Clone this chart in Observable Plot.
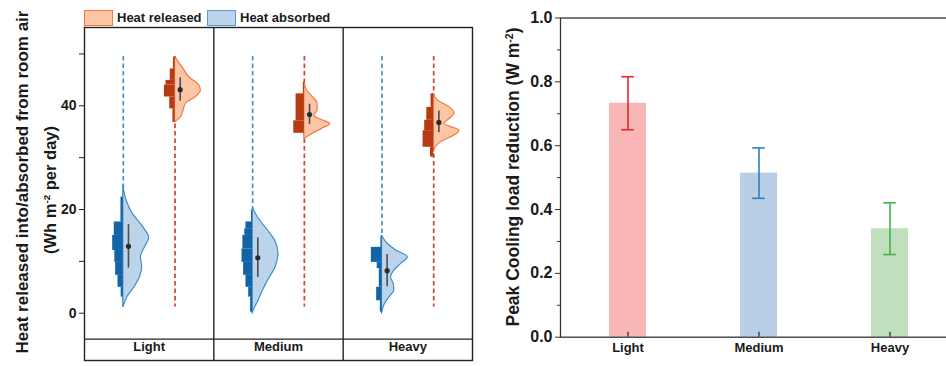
<!DOCTYPE html>
<html><head><meta charset="utf-8">
<script src="https://cdn.jsdelivr.net/npm/d3@7"></script>
<script src="https://cdn.jsdelivr.net/npm/@observablehq/plot@0.6"></script>
<style>
body{margin:0;background:#fff;}
#root{position:relative;width:946px;height:366px;overflow:hidden;font-family:"Liberation Sans",Arial,sans-serif;font-weight:bold;color:#1a1a1a;}
.abs{position:absolute;}
.rot{position:absolute;transform:translate(-50%,-50%) rotate(-90deg);white-space:nowrap;line-height:1;}
.sw{position:absolute;box-sizing:border-box;}
.lg{position:absolute;font-size:13px;line-height:1;}
</style></head><body><div id="root"></div>
<script>
// ---------- data ----------
const groups = ["Light", "Medium", "Heavy"];

// half-violin profiles: [value, relative density]
const lightAbsorbedProfile  = [[24.6,0],[21.7,0.13],[19.2,0.36],[16.6,0.77],[14.5,1.0],[12.7,0.84],[10.8,0.68],[8.9,0.73],[6.9,0.64],[5.0,0.43],[3.1,0.16],[1.2,0]];
const mediumAbsorbedProfile = [[20.1,0.02],[18.5,0.2],[15.9,0.6],[14.0,0.87],[11.5,1.0],[8.9,0.89],[6.3,0.6],[4.4,0.4],[2.4,0.23],[0.5,0.04],[-0.1,0]];
const heavyAbsorbedProfile  = [[15.0,0],[13.4,0.22],[12.1,0.55],[10.8,1.0],[9.5,0.74],[8.2,0.48],[6.9,0.35],[5.7,0.45],[4.4,0.48],[3.1,0.29],[1.5,0.09],[-0.1,0]];
const lightReleasedProfile  = [[49.4,0],[47.4,0.29],[45.5,0.55],[43.9,0.94],[42.95,1.0],[41.7,0.81],[40.4,0.42],[39.1,0.33],[37.8,0.23],[36.8,0]];
const mediumReleasedProfile = [[44.6,0],[43.0,0.1],[41.7,0.32],[40.4,0.51],[39.1,0.51],[38.1,0.38],[37.2,0.7],[36.5,1.0],[35.6,0.7],[34.6,0.32],[33.6,0]];
const heavyReleasedProfile  = [[42.3,0],[41.0,0.17],[39.7,0.62],[38.5,0.81],[37.5,0.62],[36.5,0.42],[35.2,1.0],[34.3,0.81],[33.0,0.29],[31.7,0.04],[31.1,0]];

// histogram bins: [low, high, relative count]
const lightAbsorbedHist  = [[3.1,5.0,0.2],[5.0,7.3,0.5],[7.3,9.8,0.72],[9.8,12.1,0.8],[12.1,15.0,1.0],[15.0,17.6,0.85],[17.6,22.4,0.22]];
const mediumAbsorbedHist = [[0.2,3.1,0.19],[3.1,5.0,0.37],[5.0,7.3,0.63],[7.3,9.8,0.85],[9.8,12.4,1.0],[12.4,15.0,0.92],[15.0,16.3,0.74],[16.3,17.6,0.63],[17.6,19.8,0.11]];
const heavyAbsorbedHist  = [[0.2,2.4,0.15],[2.4,5.0,0.5],[5.0,8.6,0.25],[8.6,9.8,0.45],[9.8,12.7,1.0],[12.7,14.7,0.1]];
const lightReleasedHist  = [[36.8,39.4,0.2],[39.4,41.7,0.5],[41.7,44.0,1.0],[44.0,44.9,0.85],[44.9,47.1,0.45],[47.1,49.4,0.15]];
const mediumReleasedHist = [[34.7,37.1,1.0],[37.1,42.3,0.78],[42.3,44.5,0.1]];
const heavyReleasedHist  = [[30.1,32.0,0.3],[32.0,35.2,1.0],[35.2,37.2,0.85],[37.2,39.7,0.65],[39.7,42.3,0.25]];

// mean and +/- std
const absorbedMean = [12.9, 10.7, 8.2];
const absorbedLow  = [8.7, 6.9, 5.1];
const absorbedHigh = [17.1, 14.5, 11.3];
const releasedMean = [43.1, 38.3, 36.8];
const releasedLow  = [40.9, 36.4, 34.8];
const releasedHigh = [45.4, 40.3, 39.0];

// range lines
const rangeTop = [49.5, 49.5, 49.5];
const rangeBottom = [1.2, 1.2, 1.2];

// right panel
const peakReduction = [0.733, 0.514, 0.340];
const peakError = [0.083, 0.079, 0.081];
const leftTicks = [0, 20, 40];
const leftMinorTicks = [10, 30, 50];
const rightTicks = [0, 0.2, 0.4, 0.6, 0.8, 1.0];
const rightMinorTicks = [0.1, 0.3, 0.5, 0.7, 0.9];

// ---------- styling ----------
const FONT = '"Liberation Sans", Arial, sans-serif';
const C = {
  absFill: "#bcd4ea", absStroke: "#3f8dcb", absHist: "#1264a6", absDash: "#4b8fc6",
  relFill: "#fcc6a6", relStroke: "#f07a42", relHist: "#b63a12", relDash: "#c5473a"
};
const barFill = ["#f9b6b6", "#b9cfe6", "#c0e0bd"];
const errColor = ["#e8282c", "#2c7dc4", "#4cae4f"];
const VW = 0.2, HW = 0.082, OFF = 0.04;

// ---------- build tables ----------
const kinds = [
  {kind: "absorbed", pos: 0.3, prof: [lightAbsorbedProfile, mediumAbsorbedProfile, heavyAbsorbedProfile],
   hist: [lightAbsorbedHist, mediumAbsorbedHist, heavyAbsorbedHist], mean: absorbedMean, lo: absorbedLow, hi: absorbedHigh},
  {kind: "released", pos: 0.7, prof: [lightReleasedProfile, mediumReleasedProfile, heavyReleasedProfile],
   hist: [lightReleasedHist, mediumReleasedHist, heavyReleasedHist], mean: releasedMean, lo: releasedLow, hi: releasedHigh}
];
const violins = [], bins = [], stats = [], dashes = [];
kinds.forEach(k => {
  groups.forEach((g, i) => {
    const center = i + k.pos;
    k.prof[i].slice().sort((a, b) => a[0] - b[0]).forEach(([v, d]) =>
      violins.push({id: k.kind + i, kind: k.kind, center, value: v, density: d}));
    k.hist[i].forEach(([lo, hi, r]) => bins.push({kind: k.kind, center, lo, hi, rel: r}));
    stats.push({kind: k.kind, center, mean: k.mean[i], lo: k.lo[i], hi: k.hi[i]});
    dashes.push({kind: k.kind, center, top: rangeTop[i], bottom: rangeBottom[i]});
  });
});
const facetLabels = groups.map((g, i) => ({g, x: i + 0.5}));
const bars = groups.map((g, i) => ({group: g, value: peakReduction[i], lo: peakReduction[i] - peakError[i],
  hi: peakReduction[i] + peakError[i], fill: barFill[i], stroke: errColor[i]}));

// ---------- left panel ----------
const left = Plot.plot({
  width: 480, height: 366, marginLeft: 84, marginRight: 8, marginTop: 27, marginBottom: 6,
  style: {fontFamily: FONT, fontWeight: "bold", color: "#1a1a1a", background: "transparent"},
  x: {domain: [0, 3], axis: null},
  y: {domain: [-9.12, 55.1], axis: null},
  marks: [
    Plot.ruleX(dashes.filter(d => d.kind === "absorbed"), {x: "center", y1: "top", y2: "bottom", stroke: C.absDash, strokeWidth: 1.7, strokeDasharray: "4.5,3"}),
    Plot.ruleX(dashes.filter(d => d.kind === "released"), {x: "center", y1: "top", y2: "bottom", stroke: C.relDash, strokeWidth: 1.7, strokeDasharray: "4.5,3"}),
    Plot.areaX(violins.filter(d => d.kind === "absorbed"), {y: "value", x1: "center", x2: d => d.center + d.density * VW, z: "id", fill: C.absFill, stroke: C.absStroke, strokeWidth: 1.2, curve: "monotone-y"}),
    Plot.areaX(violins.filter(d => d.kind === "released"), {y: "value", x1: "center", x2: d => d.center + d.density * VW, z: "id", fill: C.relFill, stroke: C.relStroke, strokeWidth: 1.2, curve: "monotone-y"}),
    Plot.rect(bins.filter(d => d.kind === "absorbed"), {x1: d => d.center - d.rel * HW, x2: "center", y1: "lo", y2: "hi", fill: C.absHist}),
    Plot.rect(bins.filter(d => d.kind === "released"), {x1: d => d.center - d.rel * HW, x2: "center", y1: "lo", y2: "hi", fill: C.relHist}),
    Plot.ruleX(stats, {x: d => d.center + OFF, y1: "lo", y2: "hi", stroke: "#4d4d4d", strokeWidth: 1.6}),
    Plot.dot(stats, {x: d => d.center + OFF, y: "mean", r: 2.6, fill: "#2b2b2b", stroke: "none"}),
    Plot.ruleX([1, 2], {stroke: "#222", strokeWidth: 1.4}),
    Plot.ruleY([-5], {stroke: "#222", strokeWidth: 1.4}),
    Plot.frame({stroke: "#222", strokeWidth: 1.4}),
    Plot.text(facetLabels, {x: "x", frameAnchor: "bottom", dy: -10, text: "g", fontSize: 13, fill: "#1a1a1a"}),
    Plot.axisY({ticks: leftTicks, tickSize: 5, tickPadding: 3, fontSize: 14, label: null, stroke: "#222"}),
    Plot.axisY({ticks: leftMinorTicks, tickSize: 5, tickFormat: () => "", label: null, stroke: "#222"})
  ]
});

// ---------- right panel ----------
const right = Plot.plot({
  width: 480, height: 366, marginLeft: 80, marginRight: 3, marginTop: 17.5, marginBottom: 29.3,
  style: {fontFamily: FONT, fontWeight: "bold", color: "#1a1a1a", background: "transparent"},
  x: {domain: groups, paddingInner: 0.717, paddingOuter: 0.3656, axis: null},
  y: {domain: [0, 1], axis: null},
  marks: [
    Plot.barY(bars, {x: "group", y: "value", fill: "fill"}),
    Plot.ruleX(bars, {x: "group", y1: "lo", y2: "hi", stroke: "stroke", strokeWidth: 1.6}),
    Plot.tickY(bars, {x: "group", y: "lo", stroke: "stroke", strokeWidth: 1.6, insetLeft: 12.2, insetRight: 12.2}),
    Plot.tickY(bars, {x: "group", y: "hi", stroke: "stroke", strokeWidth: 1.6, insetLeft: 12.2, insetRight: 12.2}),
    Plot.frame({stroke: "#333", strokeWidth: 1.3}),
    Plot.ruleX(groups, {x: d => d, y1: 0, y2: 0, insetTop: -5, stroke: "#333", strokeWidth: 1.3}),
    Plot.axisX({tickSize: 0, tickPadding: 6, fontSize: 13, label: null}),
    Plot.axisY({ticks: rightTicks, tickSize: 5, tickPadding: 3, fontSize: 16, tickFormat: d3.format(".1f"), label: null, stroke: "#333"}),
    Plot.axisY({ticks: rightMinorTicks, tickSize: 3, tickFormat: () => "", label: null, stroke: "#333"})
  ]
});

// ---------- assemble ----------
const root = document.getElementById("root");
const wl = document.createElement("div"); wl.className = "abs"; wl.style.left = "0px"; wl.style.top = "0px"; wl.appendChild(left);
const wr = document.createElement("div"); wr.className = "abs"; wr.style.left = "480px"; wr.style.top = "0px"; wr.appendChild(right);
left.style.maxWidth = "none"; right.style.maxWidth = "none";
root.appendChild(wl); root.appendChild(wr);

function addHTML(html) { root.insertAdjacentHTML("beforeend", html); }
// legend
addHTML(`<div class="sw" style="left:84px;top:10px;width:29px;height:16px;background:${C.relFill};border:1.5px solid ${C.relStroke};"></div>`);
addHTML(`<div class="lg" style="left:117px;top:11px;">Heat released</div>`);
addHTML(`<div class="sw" style="left:207px;top:10px;width:29px;height:16px;background:${C.absFill};border:1.5px solid #5b9bd0;"></div>`);
addHTML(`<div class="lg" style="left:240px;top:11px;">Heat absorbed</div>`);
// axis titles
addHTML(`<div class="rot" style="left:22px;top:182px;font-size:17px;">Heat released into/absorbed from room air</div>`);
addHTML(`<div class="rot" style="left:50px;top:190px;font-size:16.5px;">(Wh m<sup style="font-size:0.6em;vertical-align:0.6em;">-2</sup> per day)</div>`);
addHTML(`<div class="rot" style="left:513px;top:177px;font-size:17.5px;">Peak Cooling load reduction (W m<sup style="font-size:0.6em;vertical-align:0.6em;">-2</sup>)</div>`);
</script></body></html>
